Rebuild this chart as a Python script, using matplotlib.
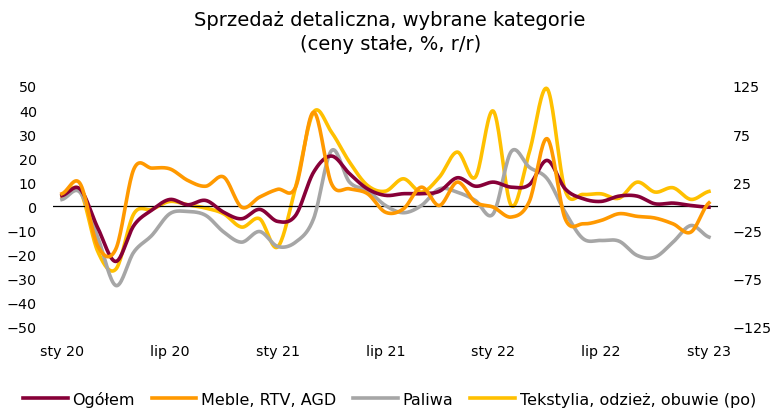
import numpy as np
import matplotlib.pyplot as plt

# monthly data, sty 20 .. sty 23
x_labels = ['sty 20', 'lip 20', 'sty 21', 'lip 21', 'sty 22', 'lip 22', 'sty 23']

ogolem = [4.5, 7.3, -9.0, -22.8, -7.9, -1.5, 2.9, 0.7, 2.5, -2.4, -5.1, -1.2, -6.2,
          -3.7, 14.2, 20.9, 13.6, 7.3, 4.6, 5.3, 5.3, 6.3, 11.9, 8.4, 10.1, 8.0, 9.0,
          19.1, 7.3, 3.2, 2.1, 4.3, 4.3, 1.1, 1.4, 0.4, -0.3]
meble = [5.3, 9.6, -16.5, -17.6, 15.5, 15.9, 15.6, 10.8, 8.4, 12.2, -0.3, 3.9, 7.1,
         8.0, 39.1, 9.4, 7.3, 5.3, -2.4, -1.0, 8.0, 0.4, 10.1, 1.8, -0.3, -4.4, 2.0,
         28.1, -5.1, -7.2, -5.8, -3.0, -4.1, -4.8, -7.2, -10.6, 1.5]
paliwa = [2.9, 5.9, -13.0, -32.8, -18.9, -12.0, -3.0, -2.1, -3.7, -10.6, -14.8, -10.4,
          -16.6, -14.8, -5.1, 23.2, 10.1, 6.6, 0.4, -2.6, 0.4, 7.3, 5.9, 2.5, -3.0,
          22.8, 16.3, 11.5, -2.4, -13.4, -14.1, -14.4, -20.3, -21.0, -14.8, -7.9, -12.7]
# right axis
tekstylia = [10.7, 16.6, -47.0, -65.0, -7.6, -3.0, 5.2, 1.7, -1.7, -7.6, -21.4, -12.8,
             -42.0, 20.0, 97.8, 77.0, 46.0, 21.8, 15.9, 28.7, 14.9, 30.4, 56.4, 30.4,
             98.9, 1.0, 56.0, 122.0, 16.6, 12.5, 13.1, 8.6, 25.2, 14.9, 19.4, 7.3, 15.6]


def smooth(y, n=20):
    # catmull-rom, like excel smoothed lines
    y = np.asarray(y, float)
    p = np.concatenate([[y[0]], y, [y[-1]]])
    xs, ys = [], []
    t = np.linspace(0, 1, n, endpoint=False)
    for i in range(len(y) - 1):
        p0, p1, p2, p3 = p[i], p[i + 1], p[i + 2], p[i + 3]
        seg = 0.5 * ((2 * p1) + (-p0 + p2) * t + (2 * p0 - 5 * p1 + 4 * p2 - p3) * t ** 2
                     + (-p0 + 3 * p1 - 3 * p2 + p3) * t ** 3)
        xs.extend(i + t)
        ys.extend(seg)
    xs.append(len(y) - 1)
    ys.append(y[-1])
    return np.array(xs), np.array(ys)


fig = plt.figure(figsize=(7.71, 4.10), dpi=100)
ax = fig.add_axes([0.0687, 0.2, 0.8625, 0.588])
ax2 = ax.twinx()

c_og = '#870038'
c_me = '#FF9900'
c_pa = '#A6A6A6'
c_te = '#FFC000'

ax.axhline(0, color='black', lw=0.9, zorder=1)
l1, = ax.plot(*smooth(ogolem), color=c_og, lw=2.6, label='Ogółem', zorder=3)
l2, = ax.plot(*smooth(meble), color=c_me, lw=2.6, label='Meble, RTV, AGD', zorder=4)
l3, = ax.plot(*smooth(paliwa), color=c_pa, lw=2.6, label='Paliwa', zorder=2)
l4, = ax2.plot(*smooth(tekstylia), color=c_te, lw=2.6, label='Tekstylia, odzież, obuwie (po)')

ax.set_zorder(ax2.get_zorder() + 1)
ax.patch.set_visible(False)

ax.set_xlim(-0.5, len(ogolem) - 0.5)
ax.set_ylim(-50, 50)
ax2.set_ylim(-125, 125)
ax.set_yticks(np.arange(-50, 51, 10))
ax2.set_yticks([-125, -75, -25, 25, 75, 125])
ax.set_xticks(np.arange(0, len(ogolem), 6))
ax.set_xticklabels(x_labels)

for a in (ax, ax2):
    for s in a.spines.values():
        s.set_visible(False)
ax.tick_params(axis='y', length=0, pad=11.5, labelsize=10.3)
ax2.tick_params(axis='y', length=0, pad=10.5, labelsize=10.3)
ax.tick_params(axis='x', length=0, pad=12, labelsize=10.3)

fig.suptitle('Sprzedaż detaliczna, wybrane kategorie\n(ceny stałe, %, r/r)',
             x=0.506, y=0.972, fontsize=14, linespacing=1.3)

fig.legend(handles=[l1, l2, l3, l4], loc='lower center', bbox_to_anchor=(0.505, -0.03),
           ncol=4, frameon=False, handlelength=2.8, handletextpad=0.3, columnspacing=1.05,
           prop={'size': 11.5})

fig.savefig('out.png', dpi=100)
